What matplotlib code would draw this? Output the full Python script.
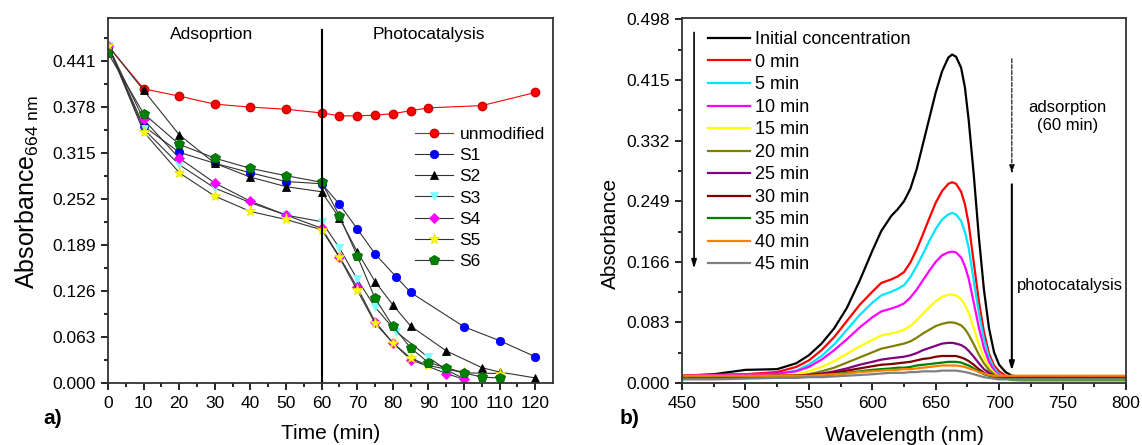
import matplotlib
matplotlib.use("Agg")
import matplotlib.pyplot as plt
import numpy as np

plt.rcParams['font.family'] = ['Liberation Sans', 'DejaVu Sans']
plt.rcParams['mathtext.fontset'] = 'custom'
plt.rcParams['mathtext.rm'] = 'Liberation Sans'

# ---- panel a) : absorbance at 664 nm vs time ----
t_unmod = [0, 10, 20, 30, 40, 50, 60, 65, 70, 75, 80, 85, 90, 105, 120]
a_unmod = [0.462, 0.403, 0.393, 0.382, 0.378, 0.375, 0.370, 0.366, 0.366, 0.367, 0.369, 0.373, 0.377, 0.380, 0.398]

t_s1 = [0, 10, 20, 30, 40, 50, 60, 65, 70, 75, 81, 85, 100, 110, 120]
a_s1 = [0.462, 0.352, 0.316, 0.301, 0.288, 0.276, 0.273, 0.245, 0.211, 0.177, 0.145, 0.124, 0.077, 0.058, 0.036]

t_s2 = [0, 10, 20, 30, 40, 50, 60, 65, 70, 75, 80, 85, 95, 105, 110, 120]
a_s2 = [0.462, 0.401, 0.340, 0.301, 0.282, 0.269, 0.262, 0.226, 0.180, 0.139, 0.107, 0.078, 0.044, 0.021, 0.015, 0.007]

t_s3 = [0, 10, 20, 30, 40, 50, 60, 65, 70, 75, 81, 90, 95, 100]
a_s3 = [0.462, 0.348, 0.299, 0.267, 0.247, 0.230, 0.221, 0.185, 0.142, 0.104, 0.070, 0.035, 0.018, 0.006]

t_s4 = [0, 10, 20, 30, 40, 50, 60, 65, 70, 75, 80, 85, 95, 100]
a_s4 = [0.462, 0.361, 0.308, 0.274, 0.249, 0.230, 0.212, 0.173, 0.131, 0.084, 0.055, 0.032, 0.013, 0.005]

t_s5 = [0, 10, 20, 30, 40, 50, 60, 65, 70, 75, 80, 85, 90, 100, 110]
a_s5 = [0.462, 0.344, 0.288, 0.256, 0.235, 0.224, 0.210, 0.172, 0.127, 0.082, 0.055, 0.034, 0.024, 0.014, 0.013]

t_s6 = [0, 10, 20, 30, 40, 50, 60, 65, 70, 75, 80, 85, 90, 95, 100, 105, 110]
a_s6 = [0.452, 0.369, 0.327, 0.308, 0.294, 0.284, 0.275, 0.229, 0.174, 0.116, 0.078, 0.048, 0.028, 0.021, 0.014, 0.008, 0.007]

# ---- panel b) : UV-vis spectra ----
wl = [450, 475, 500, 525, 540, 550, 560, 570, 580, 590, 600, 607, 615, 620, 625, 630, 635,
      640, 645, 650, 655, 660, 663, 666, 670, 673, 676, 680, 684, 688, 692, 696, 700, 705,
      710, 720, 750, 800]
spec_init = [0.010, 0.012, 0.018, 0.019, 0.027, 0.038, 0.054, 0.075, 0.103, 0.140, 0.181, 0.208, 0.229, 0.238, 0.249, 0.266, 0.293,
             0.328, 0.363, 0.398, 0.427, 0.446, 0.450, 0.447, 0.432, 0.405, 0.360, 0.285, 0.200, 0.128, 0.075, 0.042, 0.025, 0.015,
             0.010, 0.008, 0.008, 0.008]
spec_0 = [0.010, 0.011, 0.012, 0.015, 0.022, 0.031, 0.045, 0.063, 0.085, 0.107, 0.125, 0.137, 0.142, 0.146, 0.152, 0.165, 0.183,
          0.204, 0.226, 0.247, 0.263, 0.273, 0.275, 0.273, 0.262, 0.245, 0.218, 0.165, 0.112, 0.070, 0.040, 0.024, 0.016, 0.010,
          0.008, 0.007, 0.007, 0.007]
spec_5 = [0.008, 0.009, 0.010, 0.012, 0.017, 0.025, 0.037, 0.053, 0.073, 0.093, 0.110, 0.120, 0.125, 0.129, 0.134, 0.145, 0.160,
          0.177, 0.195, 0.211, 0.224, 0.231, 0.233, 0.231, 0.222, 0.207, 0.185, 0.140, 0.096, 0.060, 0.035, 0.020, 0.012, 0.007,
          0.004, 0.003, 0.003, 0.003]
spec_10 = [0.010, 0.011, 0.012, 0.013, 0.016, 0.022, 0.032, 0.045, 0.060, 0.076, 0.090, 0.098, 0.102, 0.105, 0.109, 0.117, 0.128,
           0.141, 0.154, 0.166, 0.175, 0.179, 0.180, 0.179, 0.172, 0.160, 0.143, 0.110, 0.076, 0.048, 0.029, 0.017, 0.011, 0.007,
           0.006, 0.006, 0.006, 0.006]
spec_15 = [0.007, 0.008, 0.009, 0.010, 0.012, 0.016, 0.022, 0.030, 0.040, 0.050, 0.059, 0.065, 0.068, 0.070, 0.073, 0.078, 0.086,
           0.095, 0.104, 0.112, 0.118, 0.121, 0.121, 0.120, 0.115, 0.107, 0.096, 0.075, 0.053, 0.035, 0.022, 0.014, 0.009, 0.006,
           0.005, 0.004, 0.004, 0.004]
spec_20 = [0.006, 0.007, 0.008, 0.009, 0.010, 0.012, 0.016, 0.021, 0.028, 0.035, 0.042, 0.047, 0.050, 0.052, 0.054, 0.057, 0.062,
           0.068, 0.073, 0.078, 0.081, 0.083, 0.083, 0.082, 0.079, 0.074, 0.066, 0.053, 0.039, 0.027, 0.018, 0.012, 0.008, 0.006,
           0.005, 0.005, 0.005, 0.005]
spec_25 = [0.008, 0.009, 0.009, 0.010, 0.010, 0.011, 0.013, 0.016, 0.020, 0.025, 0.029, 0.032, 0.034, 0.035, 0.036, 0.038, 0.041,
           0.045, 0.048, 0.051, 0.054, 0.055, 0.055, 0.054, 0.052, 0.049, 0.044, 0.036, 0.027, 0.019, 0.014, 0.010, 0.008, 0.007,
           0.006, 0.006, 0.006, 0.006]
spec_30 = [0.009, 0.009, 0.009, 0.010, 0.010, 0.011, 0.012, 0.014, 0.017, 0.020, 0.023, 0.025, 0.026, 0.027, 0.028, 0.029, 0.031,
           0.033, 0.034, 0.036, 0.037, 0.037, 0.037, 0.037, 0.035, 0.033, 0.030, 0.025, 0.019, 0.014, 0.011, 0.009, 0.008, 0.007,
           0.006, 0.006, 0.006, 0.006]
spec_35 = [0.008, 0.008, 0.008, 0.009, 0.009, 0.009, 0.010, 0.012, 0.014, 0.016, 0.018, 0.019, 0.020, 0.021, 0.021, 0.022, 0.024,
           0.025, 0.026, 0.027, 0.028, 0.029, 0.029, 0.029, 0.028, 0.026, 0.024, 0.020, 0.016, 0.012, 0.010, 0.008, 0.007, 0.006,
           0.005, 0.005, 0.005, 0.005]
spec_40 = [0.010, 0.010, 0.010, 0.010, 0.010, 0.010, 0.011, 0.012, 0.013, 0.015, 0.016, 0.017, 0.018, 0.018, 0.019, 0.019, 0.020,
           0.021, 0.022, 0.023, 0.024, 0.024, 0.024, 0.024, 0.023, 0.022, 0.020, 0.018, 0.015, 0.013, 0.011, 0.010, 0.010, 0.010,
           0.010, 0.010, 0.010, 0.010]
spec_45 = [0.005, 0.005, 0.006, 0.007, 0.007, 0.008, 0.008, 0.009, 0.010, 0.011, 0.012, 0.013, 0.014, 0.014, 0.014, 0.015, 0.015,
           0.016, 0.016, 0.016, 0.017, 0.017, 0.017, 0.017, 0.016, 0.015, 0.014, 0.012, 0.010, 0.008, 0.007, 0.006, 0.005, 0.005,
           0.005, 0.005, 0.005, 0.005]

spec_labels = ["Initial concentration", "0 min", "5 min", "10 min", "15 min", "20 min",
               "25 min", "30 min", "35 min", "40 min", "45 min"]
spec_colors = ["#000000", "#ff0000", "#00e5ff", "#ff00ff", "#ffff00", "#808000",
               "#800080", "#800000", "#008000", "#ff8000", "#808080"]

fig = plt.figure(figsize=(11.42, 4.45), dpi=100)
ax1 = fig.add_axes([0.0946, 0.1393, 0.3897, 0.8202])
ax2 = fig.add_axes([0.5972, 0.1393, 0.3888, 0.8202])

line_kw = dict(color="#333333", lw=0.8, markersize=6, markeredgewidth=0.6)
ax1.plot(t_unmod, a_unmod, "o-", color="red", lw=0.8, markersize=6,
         markeredgecolor="#cc0000", label="unmodified")
ax1.plot(t_s1, a_s1, "o-", markerfacecolor="#0000ff", markeredgecolor="#0000ff", label="S1", **line_kw)
ax1.plot(t_s2, a_s2, "^-", markerfacecolor="black", markeredgecolor="black", label="S2", **line_kw)
ax1.plot(t_s3, a_s3, "v-", markerfacecolor="#80ffff", markeredgecolor="#80ffff", label="S3", **line_kw)
ax1.plot(t_s4, a_s4, "D-", markerfacecolor="#ff00ff", markeredgecolor="#ff00ff", label="S4",
         **{**line_kw, "markersize": 5})
ax1.plot(t_s5, a_s5, "*-", markerfacecolor="#ffff00", markeredgecolor="#e6e600", label="S5",
         **{**line_kw, "markersize": 8})
ax1.plot(t_s6, a_s6, "p-", markerfacecolor="#008000", markeredgecolor="#006400", label="S6",
         **{**line_kw, "markersize": 7})

ax1.axvline(60, ymin=0, ymax=0.967, color="black", lw=1.5)
ax1.text(29, 0.478, "Adsoprtion", ha="center", va="center", fontsize=12.5)
ax1.text(90, 0.478, "Photocatalysis", ha="center", va="center", fontsize=12.5)

ax1.set_xlim(0, 125)
ax1.set_ylim(0, 0.5)
ax1.set_xticks(np.arange(0, 121, 10))
ax1.set_xticks(np.arange(5, 121, 10), minor=True)
yt1 = np.arange(0, 0.45, 0.063)
ax1.set_yticks(yt1)
ax1.set_yticklabels([f"{v:.3f}" for v in yt1])
ax1.set_yticks(np.arange(0.0315, 0.5, 0.063), minor=True)
ax1.set_xlabel("Time (min)", fontsize=15)
ax1.xaxis.set_label_coords(0.5, -0.112)
ax1.set_ylabel(r"Absorbance$_{\mathregular{664\ nm}}$", fontsize=18)
ax1.yaxis.set_label_coords(-0.15, 0.523)
ax1.legend(loc="center left", bbox_to_anchor=(0.69, 0.507), frameon=False, fontsize=12.5,
           handlelength=2.2, handletextpad=0.35, labelspacing=0.34, borderaxespad=0, borderpad=0)
ax1.text(-0.146, -0.096, "a)", transform=ax1.transAxes, fontsize=15, fontweight="bold",
         ha="left", va="center")

# ---- panel b ----
spectra = [spec_init, spec_0, spec_5, spec_10, spec_15, spec_20, spec_25,
           spec_30, spec_35, spec_40, spec_45]
for y, lab, col in zip(spectra, spec_labels, spec_colors):
    ax2.plot(wl, y, color=col, lw=1.6, label=lab)

ax2.set_xlim(450, 800)
ax2.set_ylim(0, 0.5)
ax2.set_xticks(np.arange(450, 801, 50))
ax2.set_xticks(np.arange(475, 800, 50), minor=True)
yt2 = np.arange(0, 0.5, 0.083)
ax2.set_yticks(yt2)
ax2.set_yticklabels([f"{v:.3f}" for v in yt2])
ax2.set_yticks(np.arange(0.0415, 0.5, 0.083), minor=True)
ax2.set_xlabel("Wavelength (nm)", fontsize=15)
ax2.xaxis.set_label_coords(0.5, -0.118)
ax2.set_ylabel("Absorbance", fontsize=15)
ax2.yaxis.set_label_coords(-0.14, 0.41)
ax2.legend(loc="center left", bbox_to_anchor=(0.0586, 0.632), frameon=False, fontsize=13,
           handlelength=2.33, handletextpad=0.28, labelspacing=0.305, borderaxespad=0, borderpad=0)

ax2.annotate("", xy=(459.5, 0.153), xytext=(459.5, 0.484),
             arrowprops=dict(arrowstyle="-|>,head_length=0.5,head_width=0.15", color="black", lw=1.2))
ax2.annotate("", xy=(710, 0.283), xytext=(710, 0.448),
             arrowprops=dict(arrowstyle="-|>,head_length=0.5,head_width=0.15", color="black", lw=0.8, ls="--"))
ax2.annotate("", xy=(710, 0.013), xytext=(710, 0.276),
             arrowprops=dict(arrowstyle="-|>,head_length=0.5,head_width=0.15", color="black", lw=1.5))
ax2.text(754, 0.365, "adsorption\n(60 min)", ha="center", va="center", fontsize=12, linespacing=1.3)
ax2.text(714, 0.134, "photocatalysis", ha="left", va="center", fontsize=12)
ax2.text(-0.14, -0.096, "b)", transform=ax2.transAxes, fontsize=15, fontweight="bold",
         ha="left", va="center")

for ax in (ax1, ax2):
    for sp in ax.spines.values():
        sp.set_linewidth(1.3)
        sp.set_color("#333333")
    ax.tick_params(which="both", direction="out", top=False, right=False, labelsize=12.5, width=1.2, pad=4)
    ax.tick_params(which="major", length=5)
    ax.tick_params(which="minor", length=3)

fig.savefig("out.png", dpi=100)
